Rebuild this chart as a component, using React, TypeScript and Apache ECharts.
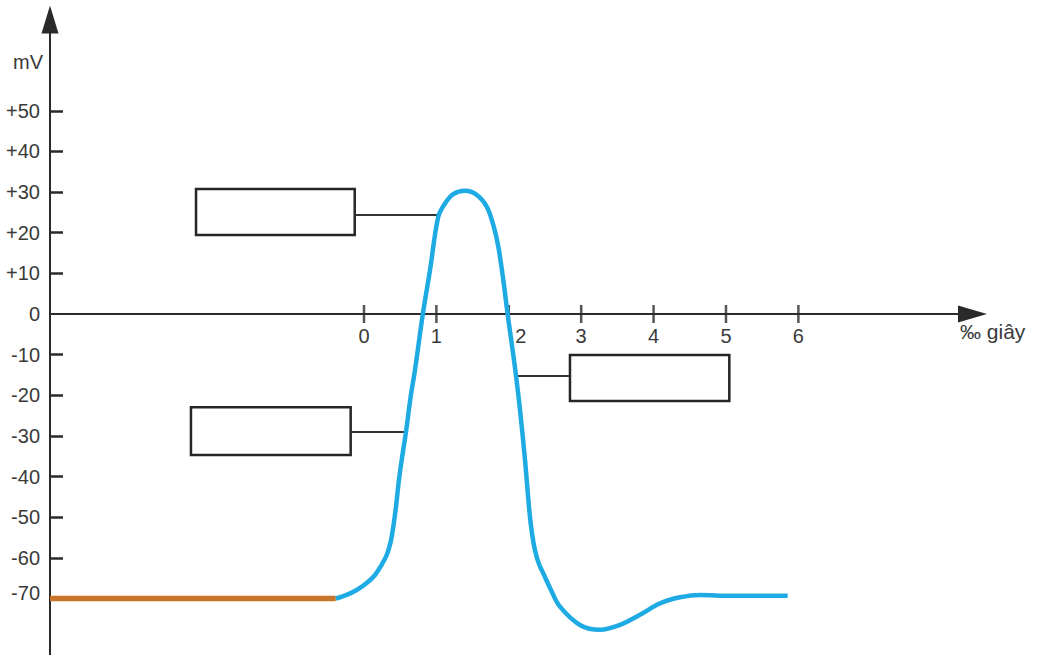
import React, { useEffect, useRef } from "react";
import * as echarts from "echarts";

// Axis scale (data units)
const xMin = -4.337;
const xMax = 8.405;
const yMin = -83.89;
const yMax = 72.45;

// Tick values / labels
const xTickValues = [0, 1, 2, 3, 4, 5, 6];
const yTickValues = [-60, -50, -40, -30, -20, -10, 10, 20, 30, 40, 50];
const yLabelValues = [-70, -60, -50, -40, -30, -20, -10, 0, 10, 20, 30, 40, 50];

// Resting potential (orange) and action potential (blue), x in ‰ s, y in mV
const restingPotential: [number, number][] = [
  [xMin, -70],
  [-0.39, -70],
];

const actionPotential: [number, number][] = [
  [-0.39, -70],
  [-0.239, -69.1],
  [-0.101, -67.9],
  [0.037, -66.2],
  [0.152, -64.2],
  [0.244, -61.7],
  [0.314, -59.3],
  [0.369, -56.0],
  [0.405, -52.3],
  [0.442, -47.4],
  [0.483, -40.8],
  [0.521, -35.9],
  [0.58, -29.0],
  [0.645, -20.3],
  [0.704, -13.8],
  [0.811, -0.2],
  [0.912, 10.8],
  [1.026, 23.9],
  [1.119, 27.2],
  [1.233, 29.5],
  [1.395, 30.3],
  [1.557, 29.3],
  [1.695, 26.4],
  [1.786, 21.9],
  [1.855, 16.6],
  [1.924, 8.4],
  [1.985, -0.2],
  [2.04, -7.2],
  [2.09, -13.8],
  [2.155, -23.6],
  [2.224, -35.9],
  [2.283, -48.2],
  [2.32, -53.9],
  [2.362, -58.1],
  [2.417, -61.5],
  [2.5, -64.7],
  [2.583, -67.9],
  [2.707, -72.0],
  [2.983, -76.5],
  [3.26, -77.7],
  [3.536, -76.5],
  [3.812, -74.0],
  [4.088, -71.2],
  [4.365, -69.7],
  [4.641, -69.1],
  [4.917, -69.3],
  [5.852, -69.3],
];

// Empty label boxes: [x0, yTop, x1, yBottom]
const labelBoxes: [number, number, number, number][] = [
  [-2.32, 30.75, -0.128, 19.43],
  [-2.39, -22.95, -0.184, -34.69],
  [2.845, -10.09, 5.046, -21.4],
];

// Connectors: [xStart, xEnd, y]
const connectors: [number, number, number][] = [
  [-0.128, 1.026, 24.35],
  [-0.184, 0.59, -28.95],
  [2.086, 2.845, -15.18],
];

const FONT = "'Liberation Sans', Arial, sans-serif";
const AXIS = "#2a2a2a";
const TEXT = "#3a3a3a";
const GRID_TOP = 19.5;
const GRID_BOTTOM = 0;
const CHART_H = 655;

export default function App() {
  const ref = useRef<HTMLDivElement>(null);

  useEffect(() => {
    if (!ref.current) return;
    const chart = echarts.init(ref.current, null, { renderer: "svg" });
    // place the x axis where y = 0 (offset from the grid's bottom edge)
    const gridH = CHART_H - GRID_TOP - GRID_BOTTOM;
    const zeroOffset = -(gridH * (0 - yMin)) / (yMax - yMin);
    chart.setOption({
      animation: false,
      backgroundColor: "#ffffff",
      textStyle: { fontFamily: FONT },
      grid: {
        left: 50,
        right: 68.5,
        top: GRID_TOP,
        bottom: GRID_BOTTOM,
        containLabel: false,
        outerBoundsMode: "none",
      },
      xAxis: {
        type: "value",
        min: xMin,
        max: xMax,
        position: "bottom",
        offset: zeroOffset,
        splitLine: { show: false },
        axisLine: {
          show: true,
          onZero: false,
          symbol: ["none", "triangle"],
          symbolSize: [17, 29],
          lineStyle: { color: AXIS, width: 2 },
        },
        axisTick: { show: false },
        axisLabel: {
          show: true,
          customValues: xTickValues,
          margin: 12,
          fontSize: 20,
          color: TEXT,
          fontFamily: FONT,
          formatter: (v: number) => (v === 2 ? "{shift|2}" : String(v)),
          rich: {
            shift: { padding: [0, 0, 0, 24], fontSize: 20, color: TEXT, fontFamily: FONT },
          },
        },
      },
      yAxis: {
        type: "value",
        min: yMin,
        max: yMax,
        splitLine: { show: false },
        axisLine: {
          show: true,
          onZero: false,
          symbol: ["none", "triangle"],
          symbolSize: [17, 28],
          lineStyle: { color: AXIS, width: 2 },
        },
        axisTick: {
          show: true,
          inside: true,
          length: 13,
          customValues: yTickValues,
          lineStyle: { color: AXIS, width: 2.5 },
        },
        axisLabel: {
          show: true,
          customValues: yLabelValues,
          margin: 10,
          fontSize: 20,
          color: TEXT,
          fontFamily: FONT,
          formatter: (v: number) =>
            v === -70 ? "{up|-70}" : v > 0 ? "+" + v : String(v),
          rich: {
            up: { padding: [0, 0, 12, 0], fontSize: 20, color: TEXT, fontFamily: FONT },
          },
        },
      },
      graphic: [
        {
          type: "text",
          left: 13,
          top: 52,
          style: { text: "mV", fontSize: 20, fill: TEXT, fontFamily: FONT },
        },
        {
          type: "text",
          left: 960,
          top: 321,
          style: { text: "‰ giây", fontSize: 21, fill: TEXT, fontFamily: FONT },
        },
      ],
      series: [
        {
          name: "ticks",
          type: "scatter",
          data: xTickValues.map((v) => [v, 0]),
          symbol: "rect",
          symbolSize: [2.5, 18],
          itemStyle: { color: AXIS },
          silent: true,
          z: 3,
        },
        {
          name: "resting",
          type: "line",
          data: restingPotential,
          showSymbol: false,
          lineStyle: { color: "#c8752a", width: 5.5 },
          silent: true,
          z: 4,
        },
        {
          name: "annotations",
          type: "line",
          data: [],
          silent: true,
          z: 2,
          markArea: {
            silent: true,
            label: { show: false },
            itemStyle: {
              color: "rgba(255,255,255,0)",
              borderColor: "#262626",
              borderWidth: 2.5,
            },
            data: labelBoxes.map(([x0, y0, x1, y1]) => [
              { coord: [x0, y0] },
              { coord: [x1, y1] },
            ]),
          },
          markLine: {
            silent: true,
            symbol: ["none", "none"],
            label: { show: false },
            lineStyle: { color: "#333333", width: 2, type: "solid" },
            data: connectors.map(([xs, xe, y]) => [
              { coord: [xs, y] },
              { coord: [xe, y] },
            ]),
          },
        },
        {
          name: "action",
          type: "line",
          data: actionPotential,
          smooth: 0.35,
          showSymbol: false,
          lineStyle: { color: "#1eabe3", width: 4.5 },
          silent: true,
          z: 5,
        },
      ],
    });
    return () => chart.dispose();
  }, []);

  return (
    <div
      ref={ref}
      style={{ position: "fixed", left: 0, top: 0, width: 1041, height: 655, background: "#fff" }}
    />
  );
}
